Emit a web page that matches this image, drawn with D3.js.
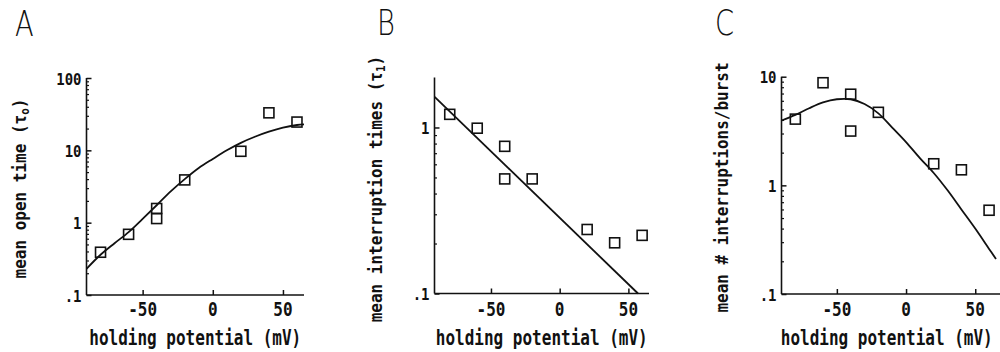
<!DOCTYPE html>
<html>
<head>
<meta charset="utf-8">
<script src="https://cdn.jsdelivr.net/npm/d3@7"></script>
<style>
  body { margin: 0; background: #fff; }
  svg { display: block; }
</style>
</head>
<body>
<div id="chart"></div>
<script>
const width = 1000;
const height = 352;

// measured points (holding potential in mV)
const voltages = [-80, -60, -40, -40, -20, 20, 40, 60];
const openTime = [0.39, 0.69, 1.57, 1.14, 3.9, 9.7, 33, 24.6];
const interruptTime = [1.2, 0.99, 0.77, 0.49, 0.49, 0.243, 0.202, 0.224];
const interruptCount = [4.07, 8.8, 6.9, 3.16, 4.7, 1.58, 1.39, 0.59];

// fitted curves
const fitVoltages = [-90, -80, -70, -60, -50, -40, -30, -20, -10, 0, 10, 20, 30, 40, 50, 60, 65];
const fitOpenTime = [0.23, 0.36, 0.52, 0.74, 1.13, 1.74, 2.7, 4.0, 5.7, 7.6, 10, 12.7, 15.4, 18.1, 20.6, 22.4, 22.9];
const fitCount = [3.95, 4.45, 5.13, 5.8, 6.2, 6.2, 5.6, 4.6, 3.4, 2.5, 1.78, 1.3, 0.9, 0.6, 0.4, 0.26, 0.21];
const fitLineVoltages = [-91, 57];
const fitInterruptTime = [1.53, 0.1];

const xTicks = [-50, 0, 50];
const yTicksA = [0.1, 1, 10, 100];
const yTicksB = [0.1, 1];
const yTicksC = [0.1, 1, 10];

const svg = d3.select("#chart")
    .append("svg")
    .attr("width", width)
    .attr("height", height);

const panels = [
    {
        letter: "A", letterX: 15, letterY: 36,
        axisX: 86.5, xRange: [86.5, 304], axisEnd: 304,
        top: 78, bottom: 295, yDomain: [0.1, 100], yTicks: yTicksA,
        values: openTime, fitX: fitVoltages, fitY: fitOpenTime,
        title: ["mean open time (", "\u03c4", "o", ")"], titleX: 26, titleY: 188.5
    },
    {
        letter: "B", letterX: 377, letterY: 35,
        axisX: 434.5, xRange: [436, 649], axisEnd: 649,
        top: 77.5, bottom: 293.5, yDomain: [0.1, 2], yTicks: yTicksB,
        values: interruptTime, fitX: fitLineVoltages, fitY: fitInterruptTime,
        title: ["mean interruption times (", "\u03c4", "1", ")"], titleX: 382, titleY: 189
    },
    {
        letter: "C", letterX: 715, letterY: 35,
        axisX: 781.5, xRange: [781.5, 996], axisEnd: 1000,
        top: 76.7, bottom: 294, yDomain: [0.1, 10], yTicks: yTicksC,
        values: interruptCount, fitX: fitVoltages, fitY: fitCount,
        title: ["mean # interruptions/burst"], titleX: 727.5, titleY: 187.5
    }
];

function stretchText(g, x, y, str, size, anchor, angle, sy) {
    return g.append("text")
        .attr("transform", `translate(${x},${y}) rotate(${angle || 0}) scale(1,${sy})`)
        .attr("text-anchor", anchor)
        .attr("font-family", "DejaVu Sans Mono")
        .attr("font-weight", "bold")
        .attr("font-size", size)
        .attr("fill", "#111")
        .text(str);
}

const fmt = d => d < 1 ? ".1" : String(d);

panels.forEach(p => {
    const g = svg.append("g");
    const x = d3.scaleLinear().domain([-90, 65]).range(p.xRange);
    const y = d3.scaleLog().domain(p.yDomain).range([p.bottom, p.top]);

    // panel letter
    g.append("text")
        .attr("transform", `translate(${p.letterX},${p.letterY}) scale(0.76,1)`)
        .attr("font-family", "DejaVu Sans")
        .attr("font-weight", 200)
        .attr("font-size", 36)
        .attr("fill", "#111")
        .text(p.letter);

    // axis lines
    g.append("line")
        .attr("x1", p.axisX).attr("x2", p.axisX)
        .attr("y1", p.top).attr("y2", p.bottom)
        .attr("stroke", "#111").attr("stroke-width", 1.6);
    g.append("line")
        .attr("x1", p.axisX).attr("x2", p.axisEnd)
        .attr("y1", p.bottom).attr("y2", p.bottom)
        .attr("stroke", "#111").attr("stroke-width", 1.6);

    // x ticks (pointing up)
    const xAxis = g.append("g")
        .attr("transform", `translate(0,${p.bottom})`)
        .call(d3.axisBottom(x).tickValues(xTicks).tickSize(-5).tickSizeOuter(0).tickFormat(""));
    xAxis.select(".domain").remove();
    xAxis.selectAll("line").attr("stroke", "#111").attr("stroke-width", 1.5);
    xTicks.forEach(t => stretchText(g, x(t), 316, t < 0 ? "-" + Math.abs(t) : String(t), 16, "middle", 0, 1.25));

    // y ticks (pointing right), major and minor
    const minors = [];
    d3.range(-1, 2).forEach(e => d3.range(2, 10).forEach(m => {
        const v = m * Math.pow(10, e);
        if (v > p.yDomain[0] && v < p.yDomain[1]) minors.push(v);
    }));
    const yMinor = g.append("g")
        .attr("transform", `translate(${p.axisX},0)`)
        .call(d3.axisLeft(y).tickValues(minors).tickSize(-2.5).tickSizeOuter(0).tickFormat(""));
    yMinor.select(".domain").remove();
    yMinor.selectAll("line").attr("stroke", "#111").attr("stroke-width", 1.2);

    const yMajor = g.append("g")
        .attr("transform", `translate(${p.axisX},0)`)
        .call(d3.axisLeft(y).tickValues(p.yTicks).tickSize(-5).tickSizeOuter(0).tickFormat(""));
    yMajor.select(".domain").remove();
    yMajor.selectAll("line").attr("stroke", "#111").attr("stroke-width", 1.5);
    p.yTicks.forEach(t => stretchText(g, p.axisX - 5, y(t) + 6.5, fmt(t), 14, "end", 0, 1.15));

    // x title
    stretchText(g, (p.axisX + p.axisEnd) / 2 + (p.letter === "C" ? -4 : 0), 345,
        "holding potential (mV)", 16, "middle", 0, 1.3);

    // y title, with subscript where needed
    const t = stretchText(g, p.titleX, p.titleY, p.title[0], 16, "middle", -90, 1.05);
    if (p.title.length > 1) {
        t.append("tspan").text(p.title[1]);
        t.append("tspan").attr("font-size", 11).attr("dy", 3).text(p.title[2]);
        t.append("tspan").attr("dy", -3).text(p.title[3]);
    }

    // fit curve
    const line = d3.line()
        .x(d => x(d[0]))
        .y(d => y(d[1]))
        .curve(d3.curveCatmullRom.alpha(0.5));
    g.append("path")
        .datum(d3.zip(p.fitX, p.fitY))
        .attr("d", line)
        .attr("fill", "none")
        .attr("stroke", "#111")
        .attr("stroke-width", 1.8);

    // data squares
    g.selectAll("rect.pt")
        .data(d3.zip(voltages, p.values))
        .enter()
        .append("rect")
        .attr("class", "pt")
        .attr("x", d => x(d[0]) - 5)
        .attr("y", d => y(d[1]) - 5)
        .attr("width", 10)
        .attr("height", 10)
        .attr("fill", "none")
        .attr("stroke", "#111")
        .attr("stroke-width", 1.6);
});
</script>
</body>
</html>
